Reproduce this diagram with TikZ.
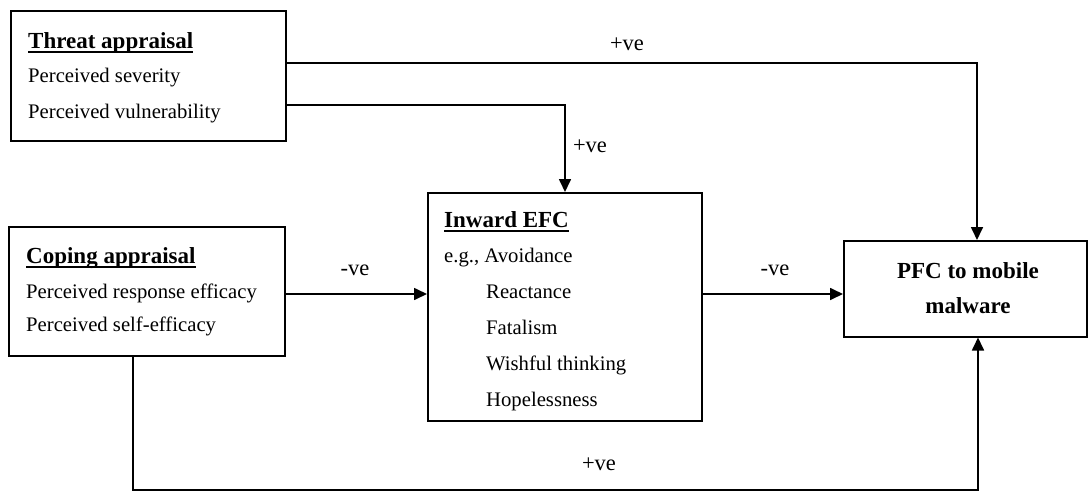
\documentclass[tikz,border=0pt]{standalone}
\usepackage{fontspec}
\setmainfont{Liberation Serif}
\usetikzlibrary{arrows.meta}
\newcommand\ulbf[1]{\setbox0\hbox{\bfseries #1}\rlap{\rule[-5pt]{\wd0}{1.8pt}}\box0}
\tikzset{
  box/.style={draw, line width=1.5pt, anchor=north west, inner sep=0pt},
  txt/.style={anchor=base west, inner sep=0pt, font=\fontsize{20.7}{24}\selectfont},
  ttl/.style={anchor=base west, inner sep=0pt, font=\fontsize{23}{26}\selectfont},
  lbl/.style={anchor=base, inner sep=0pt, font=\fontsize{22.5}{26}\selectfont},
  conn/.style={line width=1.7pt, -{Triangle[length=13pt,width=12pt]}},
}
\begin{document}
\begin{tikzpicture}[x=1pt,y=-1pt]
\useasboundingbox (0,0) rectangle (1088,493);
% boxes
\node[box, minimum width=275pt, minimum height=130pt] (threat) at (10,10) {};
\node[box, minimum width=276pt, minimum height=129pt] (coping) at (8,226) {};
\node[box, minimum width=274pt, minimum height=228pt] (efc) at (427,192) {};
\node[box, minimum width=243pt, minimum height=96pt] (pfc) at (843,240) {};
% texts
\node[ttl] (t1) at (28,48) {\ulbf{Threat appraisal}};
\node[txt] (t2) at (28,82) {Perceived severity};
\node[txt] (t3) at (28,118) {Perceived vulnerability};
\node[ttl] (c1) at (26,263) {\ulbf{Coping appraisal}};
\node[txt] (c2) at (26,298) {Perceived response efficacy};
\node[txt] (c3) at (26,331) {Perceived self-efficacy};
\node[ttl] (e1) at (444,227) {\ulbf{Inward EFC}};
\node[txt] (e2) at (444,262) {e.g., Avoidance};
\node[txt] (e3) at (486,298) {Reactance};
\node[txt] (e4) at (486,334) {Fatalism};
\node[txt] (e5) at (486,370) {Wishful thinking};
\node[txt] (e6) at (486,406) {Hopelessness};
\node[ttl, anchor=base] (p1) at (968,278) {\bfseries PFC to mobile};
\node[ttl, anchor=base] (p2) at (968,313) {\bfseries malware};
% helper coordinates
\coordinate (h1) at (977,63);
\coordinate (h2) at (565,105);
\coordinate (h3) at (0,294);
\coordinate (h4) at (133,490);
\coordinate (h5) at (978,490);
% connectors
\draw[conn] (threat.east |- h1) -- (h1) -- (pfc.north -| h1);
\draw[conn] (threat.east |- h2) -- (h2) -- (efc.north -| h2);
\draw[conn] (coping.east |- h3) -- (efc.west |- h3);
\draw[conn] (efc.east |- h3) -- (pfc.west |- h3);
\draw[conn] (coping.south -| h4) -- (h4) -- (h5) -- (pfc.south -| h5);
% labels
\node[lbl] (l1) at (627,50) {+ve};
\node[lbl] (l2) at (590,152) {+ve};
\node[lbl] (l3) at (355,275) {-ve};
\node[lbl] (l4) at (775,275) {-ve};
\node[lbl] (l5) at (599,470) {+ve};
\end{tikzpicture}
\end{document}
